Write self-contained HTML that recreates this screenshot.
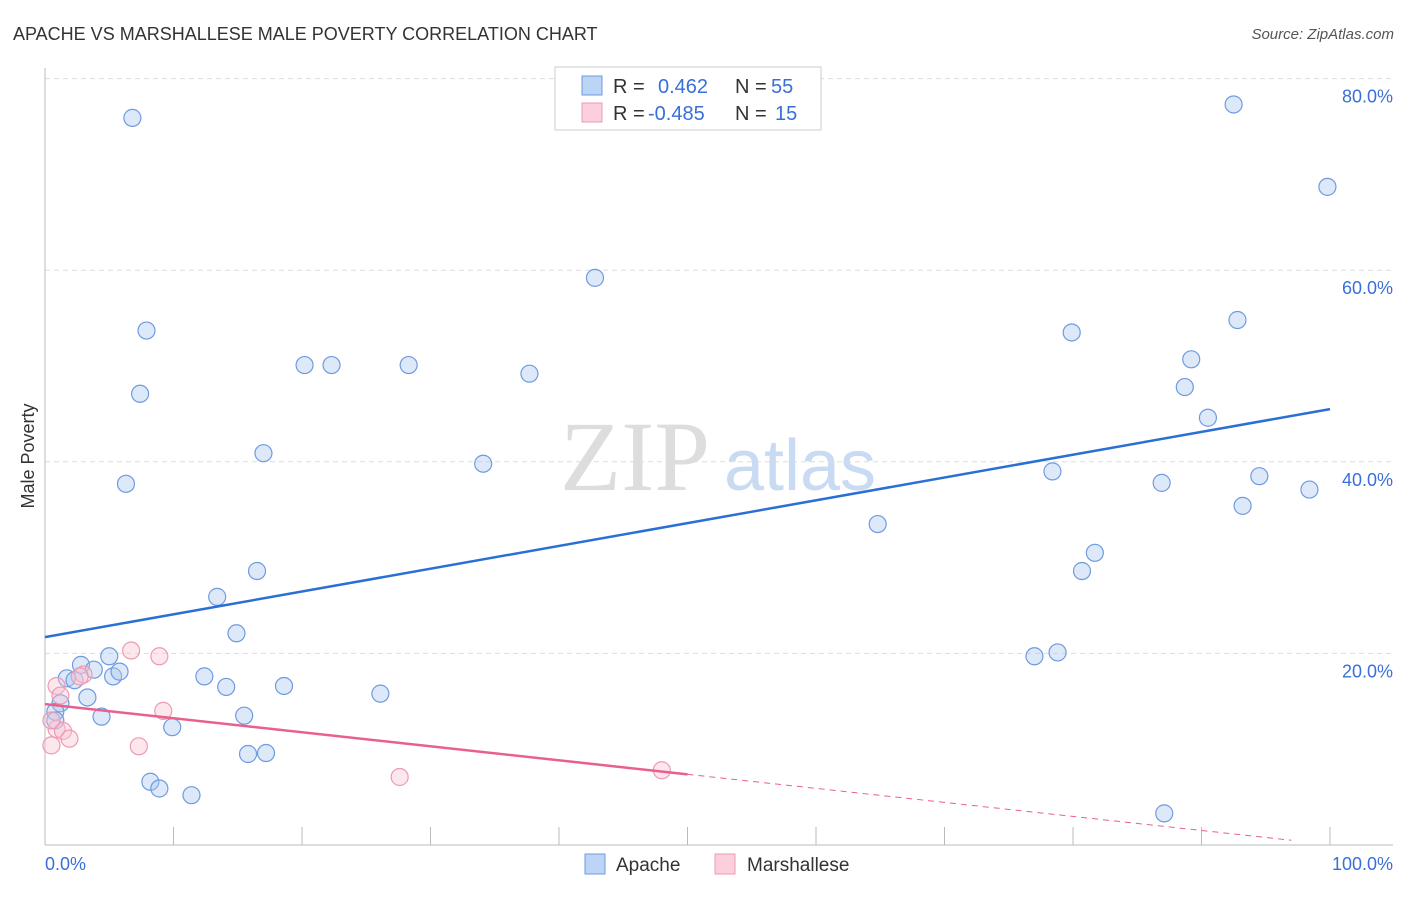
<!DOCTYPE html>
<html><head><meta charset="utf-8"><style>
body{margin:0;background:#fff;font-family:"Liberation Sans",sans-serif;}
</style></head><body>
<svg width="1406" height="892" xmlns="http://www.w3.org/2000/svg" font-family="Liberation Sans, sans-serif">
<text x="13" y="40" font-size="18" fill="#333">APACHE VS MARSHALLESE MALE POVERTY CORRELATION CHART</text>
<text x="1394" y="39" font-size="15" fill="#555" font-style="italic" text-anchor="end">Source: ZipAtlas.com</text>
<g>
<text x="635" y="490" font-size="100" fill="#ddd" style="font-family:'Liberation Serif',serif" text-anchor="middle">ZIP</text>
<text x="800" y="490" font-size="72" fill="#c9daf3" text-anchor="middle">atlas</text>
</g>
<g id="grid"></g>
<g id="axes"></g>
<g id="marks"></g>
<text transform="translate(34,456) rotate(-90)" font-size="18" fill="#333" text-anchor="middle">Male Poverty</text>
<text x="45" y="870" font-size="18" fill="#3a6fd8">0.0%</text>
<text x="1393" y="870" font-size="18" fill="#3a6fd8" text-anchor="end">100.0%</text>
<g>
<rect x="555" y="67" width="266" height="63" fill="#fff" stroke="#ccc"/>
<rect x="582" y="76" width="20" height="19" fill="#bcd4f5" stroke="#6e9be0"/>
<rect x="582" y="103" width="20" height="19" fill="#fbcfdc" stroke="#ee9ab4"/>
<text x="613" y="93" font-size="20" fill="#333">R =</text><text x="658" y="93" font-size="20" fill="#3a6fd8">0.462</text>
<text x="735" y="93" font-size="20" fill="#333">N =</text><text x="771" y="93" font-size="20" fill="#3a6fd8">55</text>
<text x="613" y="120" font-size="20" fill="#333">R =</text><text x="648" y="120" font-size="20" fill="#3a6fd8">-0.485</text>
<text x="735" y="120" font-size="20" fill="#333">N =</text><text x="775" y="120" font-size="20" fill="#3a6fd8">15</text>
</g>
<g>
<rect x="585" y="854" width="20" height="20" fill="#bcd4f5" stroke="#6e9be0"/>
<text x="616" y="871" font-size="19" fill="#333">Apache</text>
<rect x="715" y="854" width="20" height="20" fill="#fbcfdc" stroke="#ee9ab4"/>
<text x="747" y="871" font-size="19" fill="#333">Marshallese</text>
</g>
</svg>
<script>
const yTicks=[20,40,60,80];
const yTickLabels=["20.0%","40.0%","60.0%","80.0%"];
const xTicks=[10,20,30,40,50,60,70,80,90,100];
const apacheX=[6.8,42.8,7.9,7.4,20.2,22.3,28.3,37.7,17.0,34.1,6.3,16.5,13.4,14.9,5.0,2.8,1.7,2.3,3.8,5.3,5.8,12.4,14.1,18.6,26.1,3.3,1.2,0.8,0.8,4.4,9.9,15.5,15.8,17.2,8.2,8.9,11.4,92.5,99.8,79.9,92.8,89.2,88.7,90.5,78.4,86.9,94.5,93.2,98.4,64.8,81.7,80.7,77.0,78.8,87.1];
const apacheY=[75.9,59.2,53.7,47.1,50.1,50.1,50.1,49.2,40.9,39.8,37.7,28.6,25.9,22.1,19.7,18.8,17.4,17.2,18.3,17.6,18.1,17.6,16.5,16.6,15.8,15.4,14.8,13.9,13.0,13.4,12.3,13.5,9.5,9.6,6.6,5.9,5.2,77.3,68.7,53.5,54.8,50.7,47.8,44.6,39.0,37.8,38.5,35.4,37.1,33.5,30.5,28.6,19.7,20.1,3.3];
const marshX=[6.7,8.9,0.9,3.0,1.2,2.7,9.2,7.3,0.9,1.4,1.9,0.5,27.6,48.0,0.5];
const marshY=[20.3,19.7,16.6,17.8,15.6,17.6,14.0,10.3,12.1,11.9,11.1,10.4,7.1,7.8,13.0];
const apacheTrend=[21.7,45.5];
const marshTrend=[14.7,-0.485*15.1+14.7];
const X=v=>45+v*12.85, Y=v=>845-v*9.58;
const NS="http://www.w3.org/2000/svg";
function mk(p,t,a){const e=document.createElementNS(NS,t);for(const k in a)e.setAttribute(k,a[k]);document.getElementById(p).appendChild(e);return e;}
yTicks.forEach((t,i)=>{
const l=mk('grid','line',{x1:45,x2:1393,y1:Y(t),y2:Y(t),stroke:'#ddd','stroke-dasharray':'5,4'});


const tx=mk('grid','text',{x:1393,y:Y(t)+24,'font-size':18,fill:'#3a6fd8','text-anchor':'end'});
tx.textContent=yTickLabels[i];


});
let a=mk('axes','line',{x1:45,x2:45,y1:68,y2:845,stroke:'#bbb'});


a=mk('axes','line',{x1:45,x2:1393,y1:845,y2:845,stroke:'#bbb'});


xTicks.forEach(t=>{const l=mk('axes','line',{x1:X(t),x2:X(t),y1:827,y2:845,stroke:'#bbb'});

});
apacheX.forEach((x,i)=>{const c=mk('marks','circle',{cx:X(x),cy:Y(apacheY[i]),r:8.5,fill:'rgba(170,200,240,0.4)',stroke:'#6e9be0','stroke-width':1.2});

});
marshX.forEach((x,i)=>{const c=mk('marks','circle',{cx:X(x),cy:Y(marshY[i]),r:8.5,fill:'rgba(248,195,210,0.4)',stroke:'#ee9ab4','stroke-width':1.2});

});
let t=mk('marks','line',{x1:X(0),y1:Y(apacheTrend[0]),x2:X(100),y2:Y(apacheTrend[1]),stroke:'#2a6fd6','stroke-width':2.5});


const ms=(marshTrend[1]-marshTrend[0])/50;
t=mk('marks','line',{x1:X(0),y1:Y(marshTrend[0]),x2:X(50),y2:Y(marshTrend[1]),stroke:'#e8608d','stroke-width':2.5});


t=mk('marks','line',{x1:X(50),y1:Y(marshTrend[1]),x2:X(97),y2:Y(marshTrend[0]+ms*97),stroke:'#e8608d','stroke-width':1,'stroke-dasharray':'6,5'});


</script>
</body></html>
